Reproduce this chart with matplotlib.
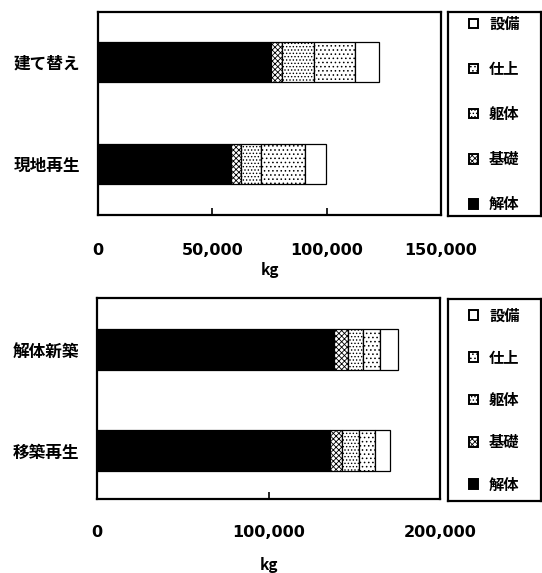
import matplotlib
matplotlib.use("Agg")
import matplotlib.pyplot as plt
from matplotlib.patches import Patch
from matplotlib.ticker import FuncFormatter

plt.rcParams['font.family'] = ['Noto Sans CJK JP', 'DejaVu Sans']
plt.rcParams['hatch.linewidth'] = 0.6

# 部位 (stack order, left to right)
parts = ['解体', '基礎', '躯体', '仕上', '設備']

# 上段
cases_top = ['現地再生', '建て替え']
top_kaitai = [58200, 75600]
top_kiso = [4300, 4900]
top_kutai = [8700, 14000]
top_shiage = [19300, 17900]
top_setsubi = [9200, 10500]

# 下段
cases_bot = ['移築再生', '解体新築']
bot_kaitai = [135900, 138200]
bot_kiso = [7000, 8200]
bot_kutai = [9900, 8700]
bot_shiage = [9300, 9900]
bot_setsubi = [8700, 10500]

styles = {
    '解体': dict(facecolor='black', hatch=None),
    '基礎': dict(facecolor='white', hatch='xxxxxx'),
    '躯体': dict(facecolor='white', hatch='.....'),
    '仕上': dict(facecolor='white', hatch='....'),
    '設備': dict(facecolor='white', hatch=None),
}

fig = plt.figure(figsize=(5.42, 5.73), dpi=100)
ax1 = fig.add_axes([0.1808, 0.6248, 0.633, 0.3543])
ax2 = fig.add_axes([0.1790, 0.1291, 0.633, 0.3508])
lg1 = fig.add_axes([0.8266, 0.6230, 0.171, 0.3560])
lg2 = fig.add_axes([0.8266, 0.1257, 0.171, 0.3525])


def draw(ax, cases, series, xmax, ticks, bar_h, ylim, pad, lpad):
    left = [0] * len(cases)
    for name, vals in zip(parts, series):
        st = styles[name]
        ax.barh(range(len(cases)), vals, left=left, height=bar_h,
                color=st['facecolor'], edgecolor='black', hatch=st['hatch'],
                linewidth=0.9)
        left = [l + v for l, v in zip(left, vals)]
    ax.set_xlim(0, xmax)
    ax.set_ylim(*ylim)
    ax.set_yticks(range(len(cases)))
    ax.set_yticklabels(cases, fontsize=12, fontweight='bold')
    ax.tick_params(axis='y', length=0, pad=13)
    ax.set_xticks(ticks)
    ax.xaxis.set_major_formatter(FuncFormatter(lambda v, p: f'{int(v):,}'))
    ax.tick_params(axis='x', direction='in', length=5, width=1.2, pad=pad)
    for lab in ax.get_xticklabels():
        lab.set_fontfamily('DejaVu Sans')
        lab.set_fontweight('bold')
        lab.set_fontsize(11.5)
    ax.set_xlabel('kg', fontsize=11, fontweight='bold', labelpad=lpad)
    for sp in ax.spines.values():
        sp.set_linewidth(1.6)


draw(ax1, cases_top, [top_kaitai, top_kiso, top_kutai, top_shiage, top_setsubi],
     150000, [0, 50000, 100000, 150000], 0.4, (-0.5, 1.49), 20, 3)
draw(ax2, cases_bot, [bot_kaitai, bot_kiso, bot_kutai, bot_shiage, bot_setsubi],
     200000, [0, 100000, 200000], 0.41, (-0.48, 1.51), 19, 12)

handles = [Patch(facecolor=styles[p]['facecolor'], edgecolor='black',
                 hatch=styles[p]['hatch'], linewidth=1.4, label=p)
           for p in reversed(parts)]

for lg, spacing in ((lg1, 1.9), (lg2, 1.72)):
    lg.set_xticks([])
    lg.set_yticks([])
    for sp in lg.spines.values():
        sp.set_linewidth(1.6)
    lg.legend(handles=handles, loc='center', frameon=False,
              handlelength=0.6, handleheight=0.6, handletextpad=0.7,
              labelspacing=spacing, prop=dict(size=11, weight='bold'))

fig.savefig('out.png', dpi=100)
